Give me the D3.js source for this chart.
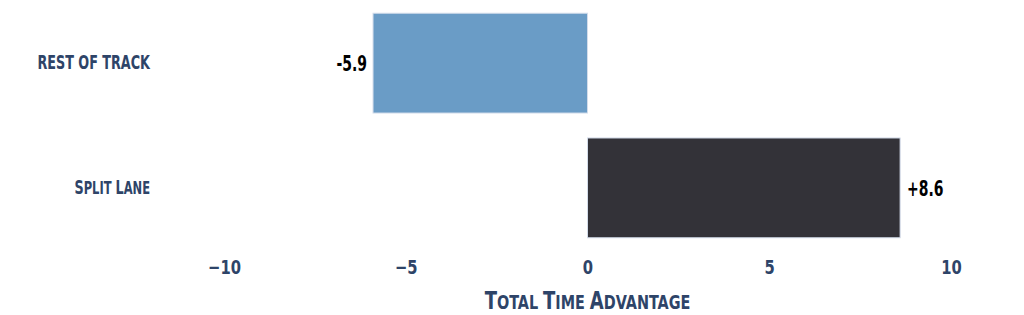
<!DOCTYPE html>
<html>
<head>
<meta charset="utf-8">
<script src="https://cdn.jsdelivr.net/npm/d3@7"></script>
<style>
  body { margin: 0; background: #fff; }
  text { font-family: "DejaVu Sans", sans-serif; font-stretch: condensed; font-weight: bold; }
</style>
</head>
<body>
<svg id="chart"></svg>
<script>
const categories = ["REST OF TRACK", "Split Lane"];
const values = [-5.9, 8.6];
const valueLabels = ["-5.9", "+8.6"];
const barColors = ["#6a9cc6", "#333238"];
const tickValues = [-10, -5, 0, 5, 10];
const axisTitle = "Total Time Advantage";

const width = 1024;
const height = 315;
const navy = '#2e4468';
const svg = d3.select('#chart')
    .attr('width', width)
    .attr('height', height);

// Scales
const x = d3.scaleLinear()
    .domain([-10, 10])
    .range([224, 951]);

const y = d3.scaleBand()
    .domain(categories)
    .range([7, 244])
    .paddingInner(0.2)
    .paddingOuter(0.05);

// write text as small caps: capitals full size, lower case letters as smaller capitals
function smallCaps(el, str, size, ratio) {
    let run = '', runSmall = null;
    const flush = () => {
        if (!run) return;
        el.append('tspan')
            .style('font-size', (runSmall ? size * ratio : size) + 'px')
            .text(run.toUpperCase());
        run = '';
    };
    for (const ch of str) {
        const small = ch !== ch.toUpperCase();
        if (runSmall !== null && small !== runSmall && ch !== ' ') flush();
        if (ch !== ' ') runSmall = small;
        run += ch;
    }
    flush();
}

// a text squeezed horizontally (condensed display look), anchored at px, py
function squeezed(parent, px, py, factor) {
    return parent.append('g')
        .attr('transform', `translate(${px},${py}) scale(${factor},1)`)
        .append('text');
}

// Bars
svg.selectAll('rect.bar')
    .data(values)
    .enter().append('rect')
    .attr('class', 'bar')
    .attr('x', d => x(Math.min(0, d)))
    .attr('width', d => Math.abs(x(d) - x(0)))
    .attr('y', (d, i) => y(categories[i]))
    .attr('height', y.bandwidth())
    .attr('fill', (d, i) => barColors[i])
    .attr('stroke', '#d3dcea')
    .attr('stroke-width', 1);

// Value labels
values.forEach((d, i) => {
    squeezed(svg, d < 0 ? x(d) - 6 : x(d) + 7, y(categories[i]) + y.bandwidth() / 2, 0.74)
        .attr('dy', '0.38em')
        .attr('text-anchor', d < 0 ? 'end' : 'start')
        .attr('fill', '#000')
        .style('font-size', '21px')
        .text(valueLabels[i]);
});

// Category labels
categories.forEach(c => {
    const t = squeezed(svg, 150, y(c) + y.bandwidth() / 2, 0.71)
        .attr('dy', '0.36em')
        .attr('text-anchor', 'end')
        .attr('fill', navy);
    smallCaps(t, c, 20, 0.9);
});

// X axis
const xAxis = d3.axisBottom(x)
    .tickValues(tickValues)
    .tickSize(0)
    .tickPadding(0)
    .tickFormat(d3.format('d'));

const gx = svg.append('g')
    .attr('transform', 'translate(0,260)')
    .call(xAxis);

gx.select('.domain').remove();
gx.selectAll('text')
    .attr('fill', navy)
    .attr('transform', 'scale(0.82,1)')
    .style('font-size', '20px')
    .style('font-family', '"DejaVu Sans", sans-serif');

// Axis title
const title = squeezed(svg, x(0), 309, 0.8)
    .attr('text-anchor', 'middle')
    .attr('fill', navy);
smallCaps(title, axisTitle, 25, 0.8);
</script>
</body>
</html>
